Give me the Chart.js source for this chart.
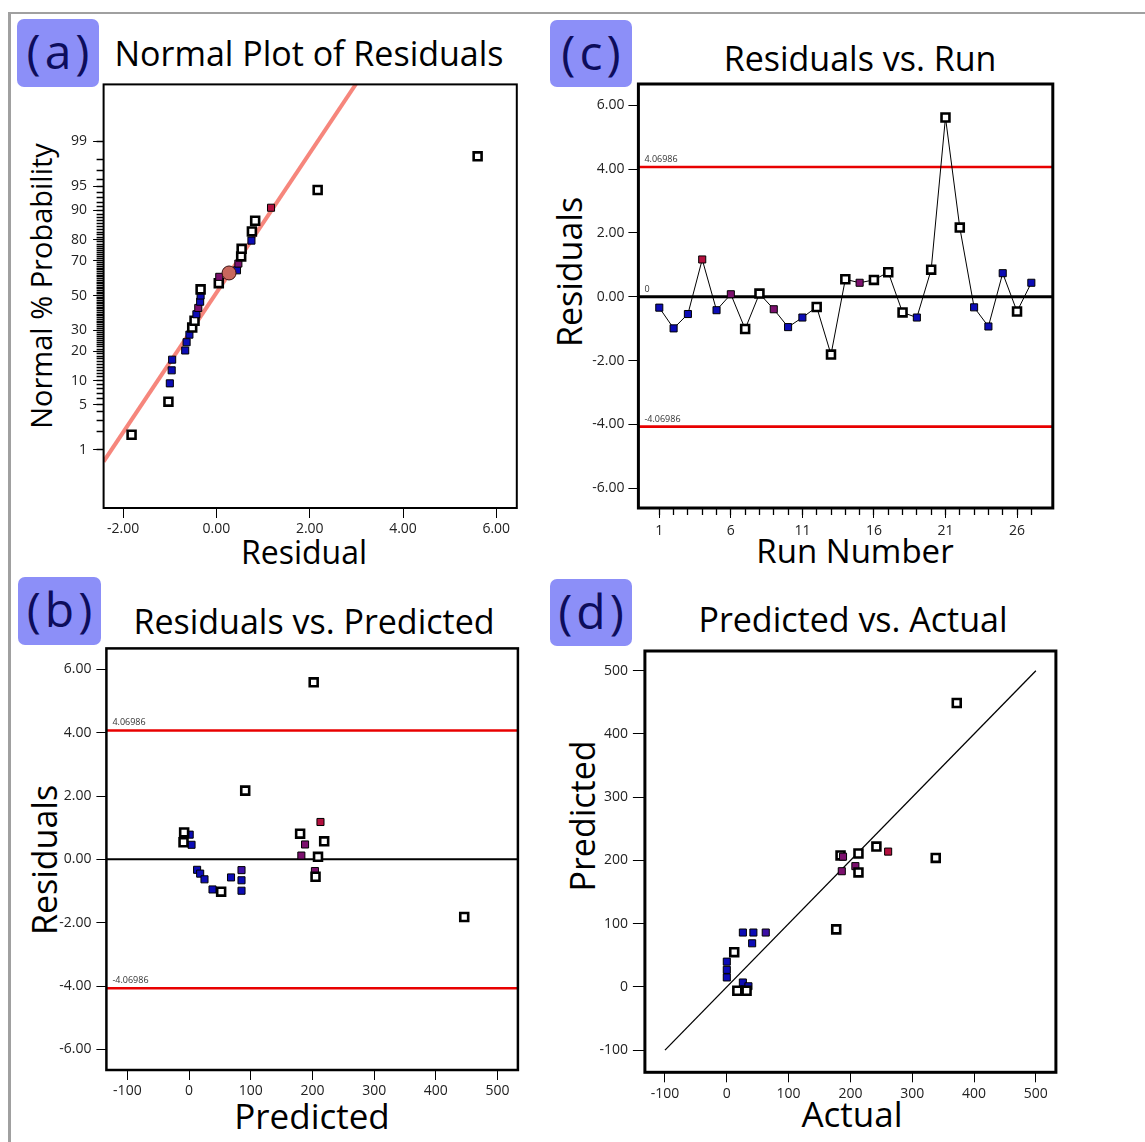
<!DOCTYPE html>
<html>
<head>
<meta charset="utf-8">
<title>Residual diagnostics</title>
<script src="https://cdn.jsdelivr.net/npm/chart.js@4.4.1/dist/chart.umd.min.js"></script>
<style>
  body { margin: 0; background: #fff; font-family: "Open Sans", sans-serif; }
  #page { position: relative; width: 1145px; height: 1142px; overflow: hidden; }
  .frame-top { position: absolute; left: 9px; top: 12px; width: 1136px; height: 2px; background: #a0a0a0; }
  .frame-left { position: absolute; left: 8px; top: 12px; width: 3px; height: 1130px; background: #a0a0a0; }
  .badge { position: absolute; width: 82px; height: 67px; background: #8c8ff8; border-radius: 7px;
           color: #0d0d5c; font-size: 48px; letter-spacing: 4px; text-indent: 4px; line-height: 64px; text-align: center; }
  .ttl { position: absolute; white-space: nowrap; line-height: 1; color: #000; transform: translateX(-50%); }
  .ytl { position: absolute; white-space: nowrap; line-height: 1; color: #000; transform: translate(-50%, -50%) rotate(-90deg); }
  canvas { position: absolute; }
</style>
</head>
<body>
<div id="page">
  <div class="frame-top"></div>
  <div class="frame-left"></div>

  <div class="badge" style="left:17px; top:19px; height:68px;">(a)</div>
  <div class="badge" style="left:550px; top:20px;">(c)</div>
  <div class="badge" style="left:18px; top:577px; width:83px; height:68px;">(b)</div>
  <div class="badge" style="left:550px; top:579px;">(d)</div>

  <div class="ttl" style="left:309px; top:36px; font-size:34px;">Normal Plot of Residuals</div>
  <div class="ttl" style="left:860px; top:41px; font-size:34px;">Residuals vs. Run</div>
  <div class="ttl" style="left:314px; top:604px; font-size:34px;">Residuals vs. Predicted</div>
  <div class="ttl" style="left:853px; top:602px; font-size:34px;">Predicted vs. Actual</div>

  <div class="ttl" style="left:304px; top:536px; font-size:32px;">Residual</div>
  <div class="ttl" style="left:855px; top:534px; font-size:33px;">Run Number</div>
  <div class="ttl" style="left:312px; top:1098px; font-size:35px;">Predicted</div>
  <div class="ttl" style="left:852px; top:1096px; font-size:35px;">Actual</div>

  <div class="ytl" style="left:40px; top:286px; font-size:29px;">Normal % Probability</div>
  <div class="ytl" style="left:569px; top:272px; font-size:34px;">Residuals</div>
  <div class="ytl" style="left:44px; top:860px; font-size:34px;">Residuals</div>
  <div class="ytl" style="left:582px; top:816px; font-size:34px;">Predicted</div>

  <canvas id="chartA" width="545" height="505" style="left:0; top:70px;"></canvas>
  <canvas id="chartC" width="600" height="505" style="left:545px; top:70px;"></canvas>
  <canvas id="chartB" width="545" height="507" style="left:0; top:635px;"></canvas>
  <canvas id="chartD" width="600" height="507" style="left:545px; top:635px;"></canvas>
</div>

<script>
// ---- data ----
// (a) normal plot: residual, normal % probability, marker kind
const normResid = [-1.82, -1.03, -1.00, -0.96, -0.95, -0.67, -0.64, -0.58, -0.52, -0.47, -0.43, -0.39, -0.35, -0.34,
                   -0.34, 0.05, 0.06, 0.44, 0.47, 0.53, 0.54, 0.75, 0.76, 0.83, 1.17, 2.17, 5.60];
const normPct = [1.8, 5.5, 9.3, 13.0, 16.7, 20.4, 24.1, 27.8, 31.5, 35.2, 38.9, 42.6, 46.3, 50.0,
                 53.7, 57.4, 61.1, 64.8, 68.5, 72.2, 75.9, 79.6, 83.3, 87.0, 90.7, 94.4, 98.2];
const normKind = ['w','w','b','b','b','b','b','b','w','w','b','p','b','b',
                  'w','w','p','b','p','w','w','b','w','w','r','w','w'];
const normLineResid = [-2.42, 3.0];
const normLinePct = [0.62, 99.93];
const centreResid = [0.27];
const centrePct = [63.3];
const probTicks = [1, 5, 10, 20, 30, 50, 70, 80, 90, 95, 99];
const residTicksA = [-2, 0, 2, 4, 6];

// (c) residuals vs run
const runNo = [1,2,3,4,5,6,7,8,9,10,11,12,13,14,15,16,17,18,19,20,21,22,23,24,25,26,27];
const runResid = [-0.34, -0.99, -0.54, 1.17, -0.42, 0.08, -1.01, 0.10, -0.39, -0.95, -0.65, -0.32, -1.81, 0.55,
                  0.44, 0.53, 0.77, -0.49, -0.65, 0.85, 5.62, 2.17, -0.33, -0.93, 0.74, -0.46, 0.44];
const runKind = ['b','b','b','r','b','p','w','w','p','b','b','w','w','w',
                 'p','w','w','w','b','w','w','w','b','b','b','w','b'];
const runTicks = [1, 6, 11, 16, 21, 26];
const residTicks = [-6, -4, -2, 0, 2, 4, 6];
const limitVal = 4.06986;

// (b) residuals vs predicted
const predX = [1, -8, 4, -9, 13, 18, 25, 38, 52, 68, 85, 85, 85, 91, 180, 188, 182, 209, 204, 205, 213, 219, 202, 446];
const predResid = [0.78, 0.85, 0.46, 0.54, -0.33, -0.45, -0.63, -0.95, -1.02, -0.57, -0.34, -0.66, -0.99, 2.17,
                   0.81, 0.47, 0.12, 0.08, -0.37, -0.55, 1.18, 0.57, 5.59, -1.82];
const predKind = ['b','w','b','w','b','b','b','b','w','b','v','b','b','w',
                  'w','p','p','w','p','w','r','w','w','w'];
const hundredTicks = [-100, 0, 100, 200, 300, 400, 500];

// (d) predicted vs actual
const actX = [372, 184, 188, 213, 242, 261, 186, 208, 213, 338, 177, 12, 26, 43, 63, 41, 0, 0, 0, 26, 35, 17, 32];
const actPred = [449, 208, 206, 211, 222, 214, 183, 191, 181, 204, 91, 55, 86, 86, 86, 69, 40, 27, 15, 7, 1, -6, -6];
const actKind = ['w','w','p','w','w','r','p','p','w','w','w','w','b','b','v','b','b','b','b','b','b','w','w'];
const diagEnds = [-100, 500];

// ---- helpers ----
Chart.defaults.font.family = '"Open Sans", sans-serif';

// inverse normal CDF, used to place the probability axis
function probit(p) {
  const a = [-39.69683028665376, 220.9460984245205, -275.9285104469687, 138.3577518672690, -30.66479806614716, 2.506628277459239];
  const b = [-54.47609879822406, 161.5858368580409, -155.6989798598866, 66.80131188771972, -13.28068155288572];
  const c = [-0.007784894002430293, -0.3223964580411365, -2.400758277161838, -2.549732539343734, 4.374664141464968, 2.938163982698783];
  const d = [0.007784695709041462, 0.3224671290700398, 2.445134137142996, 3.754408661907416];
  const lo = 0.02425;
  if (p < lo || p > 1 - lo) {
    const q = Math.sqrt(-2 * Math.log(p < lo ? p : 1 - p));
    const v = (((((c[0]*q + c[1])*q + c[2])*q + c[3])*q + c[4])*q + c[5]) / ((((d[0]*q + d[1])*q + d[2])*q + d[3])*q + 1);
    return p < lo ? v : -v;
  }
  const q = p - 0.5, r = q * q;
  return (((((a[0]*r + a[1])*r + a[2])*r + a[3])*r + a[4])*r + a[5])*q / (((((b[0]*r + b[1])*r + b[2])*r + b[3])*r + b[4])*r + 1);
}

const kindFill = { w: '#ffffff', b: '#0c0cb6', v: '#3d10a6', p: '#7c106e', r: '#b3103e' };

function markerStyle(kinds) {
  return {
    pointStyle: 'rect',
    pointBackgroundColor: kinds.map(k => kindFill[k]),
    pointBorderColor: '#000',
    pointBorderWidth: kinds.map(k => k === 'w' ? 2.6 : 1),
    pointRadius: kinds.map(k => k === 'w' ? 5.6 : 5),
    pointHoverRadius: kinds.map(k => k === 'w' ? 5.6 : 5)
  };
}

function axis(min, max, o) {
  return {
    type: 'linear', min: min, max: max, weight: 1,
    border: { display: false },
    grid: { drawOnChartArea: false, drawTicks: true, tickLength: o.tl, tickColor: '#000', tickWidth: 1 },
    ticks: { color: '#222', font: { size: 14 }, padding: o.pad, autoSkip: false, maxRotation: 0, callback: o.fmt },
    afterBuildTicks: s => { s.ticks = o.values.map(v => ({ value: v })); },
    afterFit: s => {
      if (o.w !== undefined) s.width = o.w;
      if (o.h !== undefined) s.height = o.h;
    }
  };
}

// short unlabelled ticks, sitting between the main axis and the plot
function minorAxis(position, min, max, values, len, width) {
  return {
    type: 'linear', position: position, min: min, max: max, weight: 0,
    border: { display: false },
    grid: { drawOnChartArea: false, drawTicks: true, tickLength: len, tickColor: '#000', tickWidth: width },
    ticks: { display: false, autoSkip: false },
    afterBuildTicks: s => { s.ticks = values.map(v => ({ value: v })); },
    afterFit: s => { if (s.isHorizontal()) s.height = 0; else s.width = 0; }
  };
}

function lineSet(points, color, width, order) {
  return { data: points, showLine: true, borderColor: color, borderWidth: width, pointRadius: 0, pointHoverRadius: 0, order: order };
}

// frame round the plot and the small limit labels
function boxPlugin(cfg) {
  return {
    id: 'box',
    afterDraw(chart) {
      const a = chart.chartArea, ctx = chart.ctx;
      ctx.save();
      ctx.font = '9px "Open Sans", sans-serif';
      ctx.fillStyle = '#333';
      (cfg.labels || []).forEach(l => {
        ctx.fillText(l.text, a.left + 6, chart.scales.y.getPixelForValue(l.value) - 5);
      });
      ctx.strokeStyle = '#000';
      ctx.lineWidth = cfg.width || 2;
      ctx.strokeRect(a.left, a.top, a.right - a.left, a.bottom - a.top);
      ctx.restore();
    }
  };
}

function baseOptions(pad, scales) {
  return {
    responsive: false,
    animation: false,
    layout: { padding: pad },
    plugins: { legend: { display: false }, tooltip: { enabled: false } },
    scales: scales
  };
}

const fix2 = v => Number(v).toFixed(2);
const plain = v => String(v);

// ---- (a) normal plot of residuals ----
const probMinor = Array.from({ length: 99 }, (_, i) => i + 1).map(p => probit(p / 100));
new Chart(document.getElementById('chartA'), {
  type: 'scatter',
  data: {
    datasets: [
      { data: centreResid.map((x, i) => ({ x: x, y: probit(centrePct[i] / 100) })), pointStyle: 'circle',
        pointRadius: 7, pointHoverRadius: 7, pointBackgroundColor: '#c8675d', pointBorderColor: '#3a1010', pointBorderWidth: 1, order: 0 },
      Object.assign({ data: normResid.map((x, i) => ({ x: x, y: probit(normPct[i] / 100) })), order: 1 }, markerStyle(normKind)),
      lineSet(normLineResid.map((x, i) => ({ x: x, y: probit(normLinePct[i] / 100) })), '#f6867c', 4, 2)
    ]
  },
  options: baseOptions({ left: 0, top: 13, right: 28.2, bottom: 0 }, {
    x: axis(-2.42, 6.44, { values: residTicksA, fmt: fix2, tl: 10, pad: 3, h: 67 }),
    y: axis(-3.2, 3.18, { values: probTicks.map(p => probit(p / 100)), fmt: (v, i) => String(probTicks[i]), tl: 10.5, pad: 6, w: 103.6 }),
    yMinor: minorAxis('left', -3.2, 3.18, probMinor, 7, 1.5)
  }),
  plugins: [boxPlugin({ width: 2 })]
});

// ---- (c) residuals vs run ----
new Chart(document.getElementById('chartC'), {
  type: 'scatter',
  data: {
    datasets: [
      Object.assign({ data: runNo.map((x, i) => ({ x: x, y: runResid[i] })), showLine: true, borderColor: '#000', borderWidth: 1, order: 0 },
        markerStyle(runKind)),
      lineSet([{ x: -0.46, y: 0 }, { x: 28.5, y: 0 }], '#000', 3, 1),
      lineSet([{ x: -0.46, y: limitVal }, { x: 28.5, y: limitVal }], '#e80000', 2.6, 2),
      lineSet([{ x: -0.46, y: -limitVal }, { x: 28.5, y: -limitVal }], '#e80000', 2.6, 3)
    ]
  },
  options: baseOptions({ left: 0, top: 14, right: 92.2, bottom: 0 }, {
    x: axis(-0.46, 28.5, { values: runTicks, fmt: plain, tl: 10, pad: 5, h: 67 }),
    y: axis(-6.62, 6.67, { values: residTicks, fmt: fix2, tl: 10, pad: 4, w: 93.4 }),
    xMinor: minorAxis('bottom', -0.46, 28.5, runNo, 7, 1.3)
  }),
  plugins: [boxPlugin({
    width: 3,
    labels: [{ text: '4.06986', value: limitVal }, { text: '0', value: 0 }, { text: '-4.06986', value: -limitVal }]
  })]
});

// ---- (b) residuals vs predicted ----
new Chart(document.getElementById('chartB'), {
  type: 'scatter',
  data: {
    datasets: [
      Object.assign({ data: predX.map((x, i) => ({ x: x, y: predResid[i] })), order: 0 }, markerStyle(predKind)),
      lineSet([{ x: -134, y: 0 }, { x: 533, y: 0 }], '#000', 2, 1),
      lineSet([{ x: -134, y: limitVal }, { x: 533, y: limitVal }], '#e80000', 2.6, 2),
      lineSet([{ x: -134, y: -limitVal }, { x: 533, y: -limitVal }], '#e80000', 2.6, 3)
    ]
  },
  options: baseOptions({ left: 0, top: 13.3, right: 27.1, bottom: 0 }, {
    x: axis(-134, 533, { values: hundredTicks, fmt: plain, tl: 10, pad: 3, h: 72 }),
    y: axis(-6.65, 6.66, { values: residTicks, fmt: fix2, tl: 10, pad: 5, w: 106.4 })
  }),
  plugins: [boxPlugin({ width: 2.5, labels: [{ text: '4.06986', value: limitVal }, { text: '-4.06986', value: -limitVal }] })]
});

// ---- (d) predicted vs actual ----
new Chart(document.getElementById('chartD'), {
  type: 'scatter',
  data: {
    datasets: [
      Object.assign({ data: actX.map((x, i) => ({ x: x, y: actPred[i] })), order: 0 }, markerStyle(actKind)),
      lineSet(diagEnds.map(v => ({ x: v, y: v })), '#000', 1.3, 1)
    ]
  },
  options: baseOptions({ left: 0, top: 16, right: 89.1, bottom: 0 }, {
    x: axis(-132.5, 532.4, { values: hundredTicks, fmt: plain, tl: 10, pad: 3, h: 69.7 }),
    y: axis(-135, 531.2, { values: hundredTicks, fmt: plain, tl: 12, pad: 5, w: 99.9 })
  }),
  plugins: [boxPlugin({ width: 3 })]
});
</script>
</body>
</html>
